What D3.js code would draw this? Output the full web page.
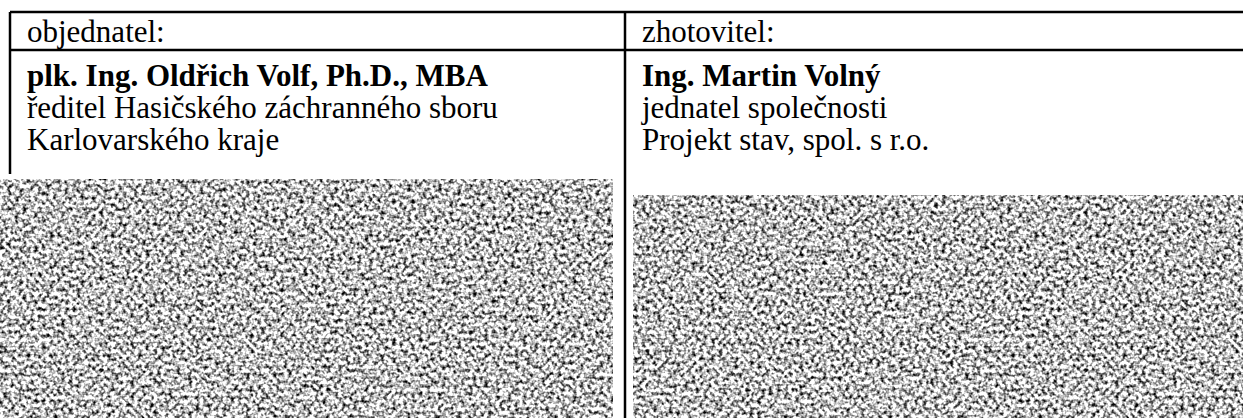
<!DOCTYPE html>
<html>
<head>
<meta charset="utf-8">
<script src="https://cdn.jsdelivr.net/npm/d3@7"></script>
<style>
  html, body { margin: 0; padding: 0; background: #fff; }
  svg { display: block; }
</style>
</head>
<body>
<svg id="chart" width="1243" height="418"></svg>
<script>
// table content
const headers = ["objednatel:", "zhotovitel:"];
const names = ["plk. Ing. Oldřich Volf, Ph.D., MBA", "Ing. Martin Volný"];
const roles = ["ředitel Hasičského záchranného sboru", "jednatel společnosti"];
const orgs = ["Karlovarského kraje", "Projekt stav, spol. s r.o."];
const columns = [0, 1];

const width = 1243, height = 418;
const svg = d3.select("#chart");

// column x positions (left edge of each cell)
const x = d3.scaleOrdinal().domain(columns).range([10, 625]);
const textPad = 17;

const defs = svg.append("defs");
const noise = defs.append("filter")
    .attr("id", "noise")
    .attr("x", 0).attr("y", 0).attr("width", "100%").attr("height", "100%")
    .attr("color-interpolation-filters", "sRGB");
noise.append("feTurbulence")
    .attr("type", "fractalNoise")
    .attr("baseFrequency", 0.26)
    .attr("numOctaves", 2)
    .attr("seed", 7)
    .attr("result", "t");
noise.append("feColorMatrix")
    .attr("type", "matrix")
    .attr("values", "-2.6 0 0 0 2.05  -2.6 0 0 0 2.05  -2.6 0 0 0 2.05  0 0 0 0 1")
    .attr("in", "t")
    .attr("result", "g");
noise.append("feGaussianBlur").attr("stdDeviation", 0.7).attr("in", "g");

// signature blocks (redacted)
const sigs = [
    { col: 0, x0: 0, x1: 613, y0: 179 },
    { col: 1, x0: 633, x1: width, y0: 195 }
];
svg.selectAll("rect.sig")
    .data(sigs)
    .enter()
    .append("rect")
    .attr("class", "sig")
    .attr("x", d => d.x0)
    .attr("y", d => d.y0)
    .attr("width", d => d.x1 - d.x0)
    .attr("height", d => height - d.y0)
    .attr("fill", "#fff")
    .attr("filter", "url(#noise)");

// grid lines
const lines = svg.append("g").attr("stroke", "#000").attr("stroke-width", 2.5);
lines.append("line").attr("x1", 10).attr("x2", width).attr("y1", 12).attr("y2", 12);
lines.append("line").attr("x1", 10).attr("x2", width).attr("y1", 50).attr("y2", 50);
lines.append("line").attr("x1", 10).attr("x2", 10).attr("y1", 12).attr("y2", 174);
lines.append("line").attr("x1", 625).attr("x2", 625).attr("y1", 12).attr("y2", height);

const font = "'Liberation Serif', 'Times New Roman', serif";
const rows = [
    { data: headers, y: 42, weight: "normal" },
    { data: names, y: 86, weight: "bold" },
    { data: roles, y: 118, weight: "normal" },
    { data: orgs, y: 150, weight: "normal" }
];

rows.forEach(r => {
    svg.append("g").selectAll("text")
        .data(columns)
        .enter()
        .append("text")
        .attr("x", c => x(c) + textPad)
        .attr("y", r.y)
        .attr("font-family", font)
        .attr("font-size", 31)
        .attr("font-weight", r.weight)
        .attr("fill", "#000")
        .text(c => r.data[c]);
});
</script>
</body>
</html>
